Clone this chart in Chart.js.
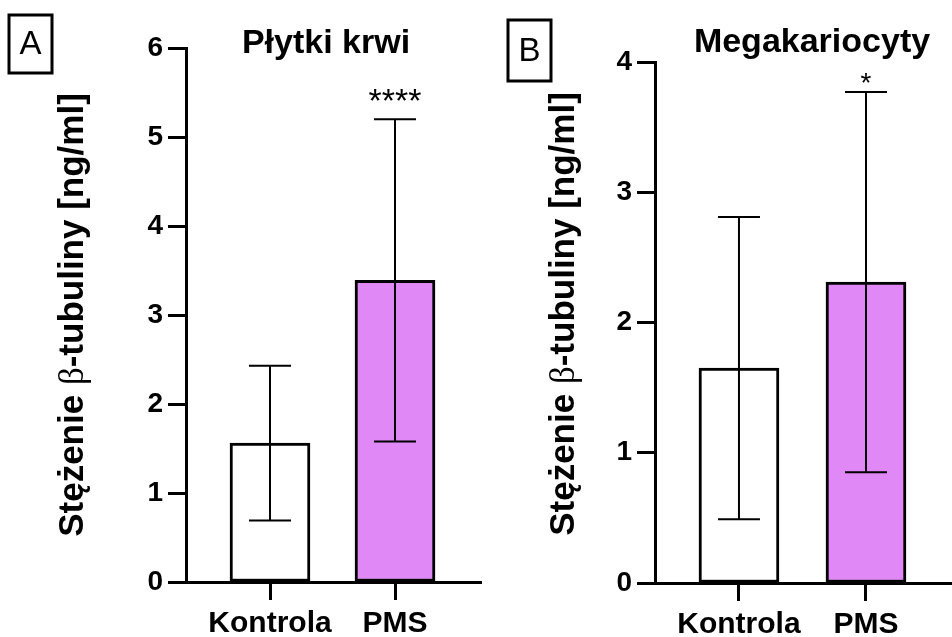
<!DOCTYPE html>
<html>
<head>
<meta charset="utf-8">
<script src="https://cdn.jsdelivr.net/npm/chart.js@4"></script>
<style>
  html, body { margin: 0; padding: 0; background: #fff; }
  body { width: 952px; height: 637px; position: relative; overflow: hidden; }
  canvas { position: absolute; top: 0; }
</style>
</head>
<body>
<canvas id="plytki" width="500" height="637" style="left:0"></canvas>
<canvas id="mega" width="476" height="637" style="left:476px"></canvas>
<script>
const groups = ["Kontrola", "PMS"];
const barColors = ["#ffffff", "#df88f6"];

// Płytki krwi: mean and SD per group
const plateletMean = [1.56, 3.39];
const plateletSd = [0.87, 1.81];
const plateletStars = ["", "****"];
const plateletTicks = [0, 1, 2, 3, 4, 5, 6];

// Megakariocyty
const megaMean = [1.65, 2.31];
const megaSd = [1.16, 1.46];
const megaStars = ["", "*"];
const megaTicks = [0, 1, 2, 3, 4];

const axisTitleParts = [
  ["bold", "Stężenie "],
  ["serif", "β"],
  ["bold", "-tubuliny [ng/ml]"],
];

const FONT = "'Liberation Sans', Arial, sans-serif";

// whiskers (mean ± SD) plus the significance stars above them
const errorBars = {
  id: "errorBars",
  afterDatasetsDraw(chart, args, o) {
    const { ctx, scales: { y } } = chart;
    const pts = chart.data.datasets[0].data;
    ctx.save();
    ctx.strokeStyle = "#000";
    ctx.fillStyle = "#000";
    ctx.lineWidth = 2;
    chart.getDatasetMeta(0).data.forEach((bar, i) => {
      const mean = pts[i].y;
      const top = y.getPixelForValue(mean + o.sd[i]);
      const bottom = y.getPixelForValue(mean - o.sd[i]);
      ctx.beginPath();
      ctx.moveTo(bar.x, top); ctx.lineTo(bar.x, bottom);
      ctx.moveTo(bar.x - 21, top); ctx.lineTo(bar.x + 21, top);
      ctx.moveTo(bar.x - 21, bottom); ctx.lineTo(bar.x + 21, bottom);
      ctx.stroke();
      if (o.stars[i]) {
        ctx.font = `${o.starSize}px ${FONT}`;
        ctx.textAlign = "center";
        ctx.textBaseline = "alphabetic";
        ctx.fillText(o.stars[i], bar.x, top - o.starGap);
      }
    });
    ctx.restore();
  }
};

// boxed panel letter, title and the rotated y title
const panelText = {
  id: "panelText",
  afterDraw(chart, args, o) {
    const ctx = chart.ctx;
    ctx.save();
    ctx.fillStyle = "#000";
    ctx.strokeStyle = "#000";
    ctx.lineWidth = 3;
    const [bx, by, bw, bh] = o.box;
    ctx.strokeRect(bx, by, bw, bh);
    ctx.font = `33px ${FONT}`;
    ctx.textAlign = "center";
    ctx.textBaseline = "middle";
    ctx.fillText(o.letter, bx + bw / 2, by + bh / 2 + 1);

    ctx.font = `bold 34px ${FONT}`;
    ctx.textBaseline = "alphabetic";
    ctx.fillText(o.title, o.titleX, o.titleY);

    const fonts = { bold: `bold 35px ${FONT}`, serif: "35px 'Liberation Serif', 'DejaVu Serif', serif" };
    let total = 0;
    axisTitleParts.forEach(([f, t]) => { ctx.font = fonts[f]; total += ctx.measureText(t).width; });
    ctx.translate(o.axisX, o.axisY);
    ctx.rotate(-Math.PI / 2);
    ctx.textAlign = "left";
    let pos = -total / 2;
    axisTitleParts.forEach(([f, t]) => {
      ctx.font = fonts[f];
      ctx.fillText(t, pos, 0);
      pos += ctx.measureText(t).width;
    });
    ctx.restore();
  }
};

function makePanel(id, means, sds, stars, yTicks, lay) {
  return new Chart(document.getElementById(id), {
    type: "bar",
    data: {
      datasets: [{
        data: means.map((m, i) => ({ x: i, y: m })),
        backgroundColor: barColors,
        borderColor: "#000",
        borderWidth: 3,
        borderSkipped: false,
        barThickness: 80,
      }]
    },
    options: {
      responsive: false,
      animation: false,
      layout: { padding: lay.padding },
      plugins: {
        legend: { display: false },
        tooltip: { enabled: false },
        errorBars: { sd: sds, stars, starSize: lay.starSize, starGap: lay.starGap },
        panelText: lay.text,
      },
      scales: {
        x: {
          type: "linear",
          offset: false,
          min: lay.xMin,
          max: lay.xMax,
          afterBuildTicks: s => { s.ticks = groups.map((g, i) => ({ value: i })); },
          afterFit: s => { s.height = lay.xHeight; },
          ticks: {
            callback: v => groups[v],
            autoSkip: false,
            maxRotation: 0,
            padding: 6,
            color: "#000",
            font: { family: FONT, size: 30, weight: "bold" },
          },
          grid: { offset: false, drawOnChartArea: false, tickLength: 18, tickWidth: 3, tickColor: "#000" },
          border: { color: "#000", width: 3 },
        },
        y: {
          min: yTicks[0],
          max: yTicks[yTicks.length - 1],
          afterBuildTicks: s => { s.ticks = yTicks.map(v => ({ value: v })); },
          afterFit: s => { s.width = lay.yWidth; },
          ticks: {
            padding: 5,
            color: "#000",
            font: { family: FONT, size: 28, weight: "bold" },
          },
          grid: { drawOnChartArea: false, tickLength: 18, tickWidth: 3, tickColor: "#000" },
          border: { color: "#000", width: 3 },
        }
      }
    },
    plugins: [errorBars, panelText]
  });
}

makePanel("plytki", plateletMean, plateletSd, plateletStars, plateletTicks, {
  padding: { top: 48, right: 19, left: 0, bottom: 0 },
  yWidth: 186, xHeight: 55, xMin: -0.672, xMax: 1.688,
  starSize: 34, starGap: 7,
  text: { letter: "A", box: [9, 15, 43, 58], title: "Płytki krwi", titleX: 326, titleY: 53, axisX: 83, axisY: 315 },
});

makePanel("mega", megaMean, megaSd, megaStars, megaTicks, {
  padding: { top: 62, right: 0, left: 0, bottom: 0 },
  yWidth: 179, xHeight: 54, xMin: -0.661, xMax: 1.677,
  starSize: 28, starGap: 0,
  text: { letter: "B", box: [32, 20, 43, 61], title: "Megakariocyty", titleX: 336, titleY: 52, axisX: 98, axisY: 314 },
});
</script>
</body>
</html>
